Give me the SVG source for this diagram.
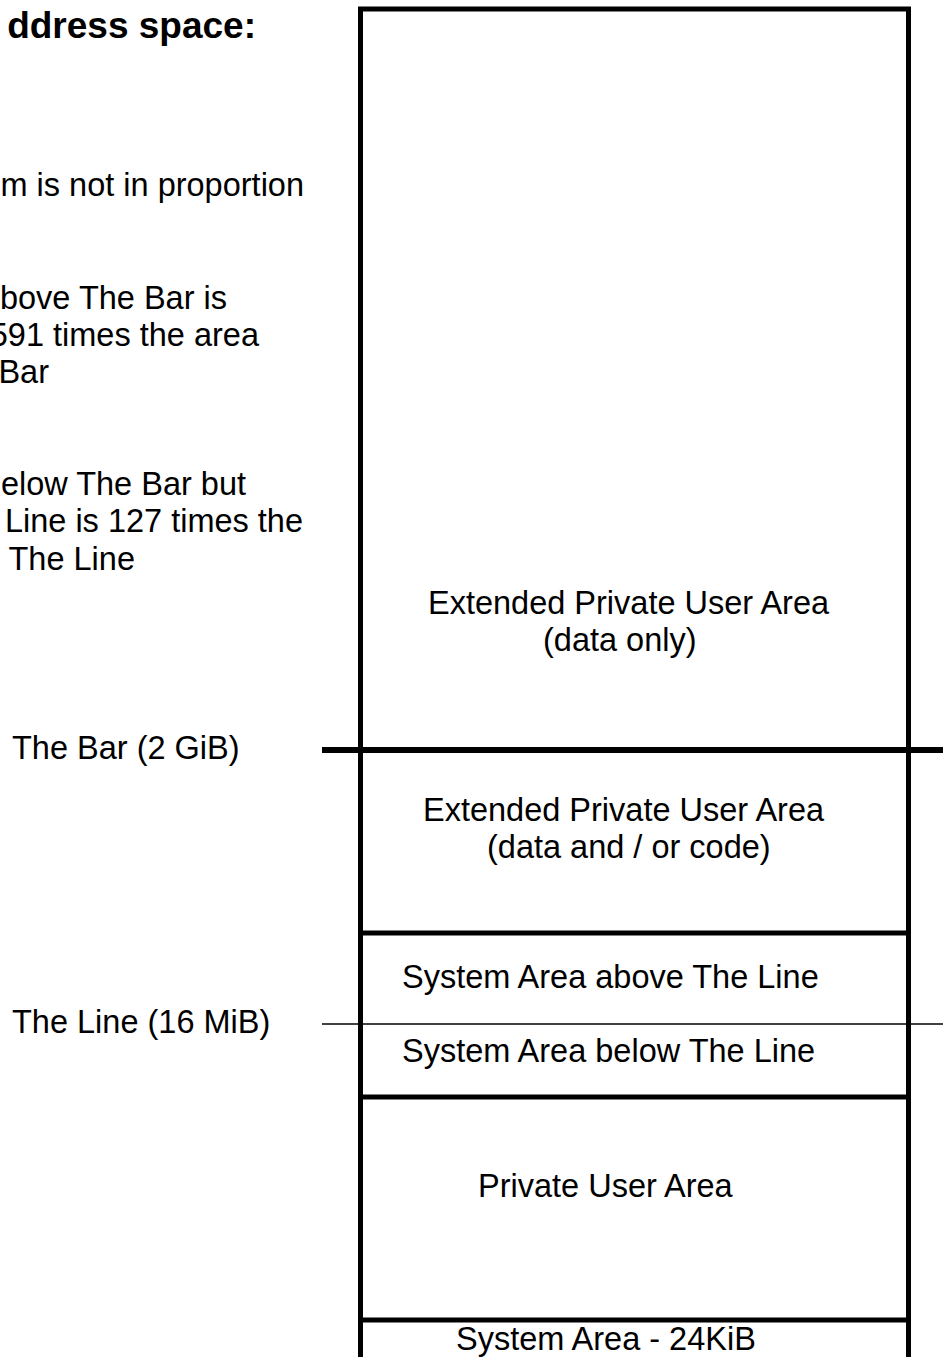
<svg xmlns="http://www.w3.org/2000/svg" width="943" height="1357" viewBox="0 0 943 1357">
<style>
.t{font-family:"Liberation Sans",Arial,sans-serif;font-size:32.5px;fill:#000}
.b{font-family:"Liberation Sans",Arial,sans-serif;font-size:32.5px;fill:#000}
.h{font-family:"Liberation Sans",Arial,sans-serif;font-size:37px;font-weight:bold;fill:#000}
.thick{stroke:#000;stroke-width:6;fill:none}
.wall{stroke:#000;stroke-width:5;fill:none;stroke-linejoin:miter}
.thin{stroke:#000;stroke-width:1.5;fill:none}
</style>
<rect width="943" height="1357" fill="#fff"/>
<g id="notes">
<text class="h" x="256" y="38" text-anchor="end">ddress space:</text>
<text class="t" x="304" y="196" text-anchor="end">m is not in proportion</text>
<text class="t" x="227" y="309" text-anchor="end">bove The Bar is</text>
<text class="t" x="259" y="346" text-anchor="end">591 times the area</text>
<text class="t" x="49" y="383" text-anchor="end">Bar</text>
<text class="t" x="246" y="495" text-anchor="end">elow The Bar but</text>
<text class="t" x="303" y="532" text-anchor="end">Line is 127 times the</text>
<text class="t" x="135" y="570" text-anchor="end">The Line</text>
<text class="t" x="12" y="759">The Bar (2 GiB)</text>
<text class="t" x="12" y="1033">The Line (16 MiB)</text>
</g>
<g id="box">
<path class="wall" d="M360.5,1357 V9 H908.5 V1357"/>
</g>
<g id="ext-data-only">
<text class="b" x="428" y="614">Extended Private User Area</text>
<text class="b" x="543" y="651">(data only)</text>
</g>
<g id="ext-data-code">
<text class="b" x="423" y="821">Extended Private User Area</text>
<text class="b" x="487" y="858">(data and / or code)</text>
</g>
<g id="sys-above">
<line class="wall" x1="360" y1="933" x2="909" y2="933"/>
<text class="b" x="402" y="988">System Area above The Line</text>
</g>
<g id="sys-below">
<text class="b" x="402" y="1062">System Area below The Line</text>
</g>
<g id="private-user">
<line class="wall" x1="360" y1="1097" x2="909" y2="1097"/>
<text class="b" x="478" y="1197">Private User Area</text>
</g>
<g id="sys-24k">
<line class="wall" x1="360" y1="1320" x2="909" y2="1320"/>
<text class="b" x="456" y="1350">System Area - 24KiB</text>
</g>
<g id="connectors">
<line class="thick" x1="322" y1="750" x2="943" y2="750"/>
<line class="thin" x1="322" y1="1024" x2="943" y2="1024"/>
</g>
</svg>
